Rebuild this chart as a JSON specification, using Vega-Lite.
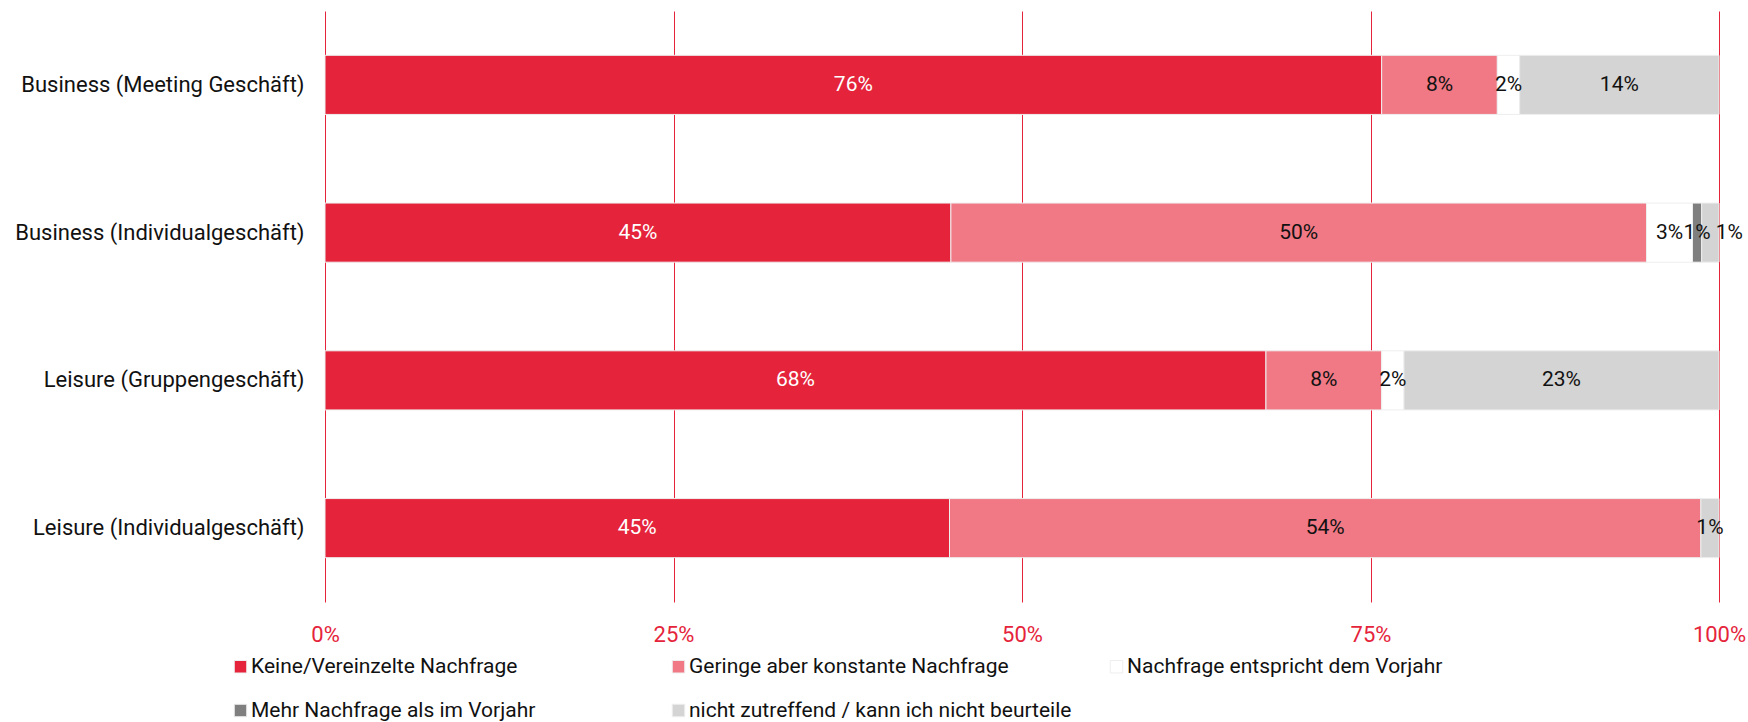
{
  "$schema": "https://vega.github.io/schema/vega-lite/v6.json",
  "width": 1394,
  "height": 591,
  "autosize": {"type": "none"},
  "padding": {"left": 325, "top": 11, "right": 29, "bottom": 120},
  "background": "white",
  "config": {
    "view": {"stroke": null},
    "font": "Roboto",
    "axis": {"labelFont": "Roboto", "domain": false, "ticks": false},
    "legend": {"labelFont": "Roboto"}
  },
  "data": {
    "values": [
      {"category": "Business (Meeting Geschäft)", "answer": "Keine/Vereinzelte Nachfrage", "order": 1, "value": 0.758},
      {"category": "Business (Meeting Geschäft)", "answer": "Geringe aber konstante Nachfrage", "order": 2, "value": 0.083},
      {"category": "Business (Meeting Geschäft)", "answer": "Nachfrage entspricht dem Vorjahr", "order": 3, "value": 0.016},
      {"category": "Business (Meeting Geschäft)", "answer": "nicht zutreffend / kann ich nicht beurteile", "order": 5, "value": 0.143},
      {"category": "Business (Individualgeschäft)", "answer": "Keine/Vereinzelte Nachfrage", "order": 1, "value": 0.449},
      {"category": "Business (Individualgeschäft)", "answer": "Geringe aber konstante Nachfrage", "order": 2, "value": 0.499},
      {"category": "Business (Individualgeschäft)", "answer": "Nachfrage entspricht dem Vorjahr", "order": 3, "value": 0.033},
      {"category": "Business (Individualgeschäft)", "answer": "Mehr Nachfrage als im Vorjahr", "order": 4, "value": 0.0066},
      {"category": "Business (Individualgeschäft)", "answer": "nicht zutreffend / kann ich nicht beurteile", "order": 5, "value": 0.0124},
      {"category": "Leisure (Gruppengeschäft)", "answer": "Keine/Vereinzelte Nachfrage", "order": 1, "value": 0.675},
      {"category": "Leisure (Gruppengeschäft)", "answer": "Geringe aber konstante Nachfrage", "order": 2, "value": 0.083},
      {"category": "Leisure (Gruppengeschäft)", "answer": "Nachfrage entspricht dem Vorjahr", "order": 3, "value": 0.016},
      {"category": "Leisure (Gruppengeschäft)", "answer": "nicht zutreffend / kann ich nicht beurteile", "order": 5, "value": 0.226},
      {"category": "Leisure (Individualgeschäft)", "answer": "Keine/Vereinzelte Nachfrage", "order": 1, "value": 0.448},
      {"category": "Leisure (Individualgeschäft)", "answer": "Geringe aber konstante Nachfrage", "order": 2, "value": 0.539},
      {"category": "Leisure (Individualgeschäft)", "answer": "nicht zutreffend / kann ich nicht beurteile", "order": 5, "value": 0.013}
    ]
  },
  "transform": [
    {"stack": "value", "groupby": ["category"], "sort": [{"field": "order", "order": "ascending"}], "as": ["x0", "x1"]},
    {"calculate": "(datum.x0 + datum.x1) / 2", "as": "mid"}
  ],
  "encoding": {
    "y": {
      "field": "category",
      "type": "nominal",
      "sort": ["Business (Meeting Geschäft)", "Business (Individualgeschäft)", "Leisure (Gruppengeschäft)", "Leisure (Individualgeschäft)"],
      "scale": {"paddingInner": 0.6, "paddingOuter": 0.3},
      "axis": {"title": null, "labelFontSize": 22, "labelColor": "#111111", "labelPadding": 21, "labelLimit": 400, "grid": false}
    }
  },
  "layer": [
    {
      "mark": {"type": "bar", "stroke": "#eeeeee", "strokeWidth": 1},
      "encoding": {
        "x": {
          "field": "x0",
          "type": "quantitative",
          "scale": {"domain": [0, 1], "nice": false},
          "axis": {
            "title": null,
            "values": [0, 0.25, 0.5, 0.75, 1],
            "format": ".0%",
            "labelFontSize": 22,
            "labelColor": "#e5243b",
            "labelPadding": 22,
            "labelFlush": false,
            "grid": true,
            "gridColor": "#e5243b",
            "gridWidth": 1,
            "gridOpacity": 1
          }
        },
        "x2": {"field": "x1"},
        "color": {
          "field": "answer",
          "type": "nominal",
          "scale": {
            "domain": ["Keine/Vereinzelte Nachfrage", "Geringe aber konstante Nachfrage", "Nachfrage entspricht dem Vorjahr", "Mehr Nachfrage als im Vorjahr", "nicht zutreffend / kann ich nicht beurteile"],
            "range": ["#e5243b", "#f07985", "#ffffff", "#7f7f7f", "#d4d4d4"]
          },
          "legend": {
            "title": null,
            "orient": "none",
            "legendX": -95,
            "legendY": 645,
            "direction": "horizontal",
            "columns": 3,
            "gridAlign": "all",
            "columnPadding": 34,
            "rowPadding": 22,
            "symbolType": "square",
            "symbolSize": 156,
            "symbolStrokeColor": "#eeeeee",
            "symbolStrokeWidth": 1,
            "labelFontSize": 21,
            "labelColor": "#111111",
            "labelOffset": 0,
            "labelLimit": 600
          }
        }
      }
    },
    {
      "transform": [{"filter": "!(datum.category === 'Business (Individualgeschäft)' && datum.order === 5)"}],
      "mark": {"type": "text", "fontSize": 21, "align": "center", "baseline": "middle"},
      "encoding": {
        "x": {"field": "mid", "type": "quantitative"},
        "text": {"field": "value", "type": "quantitative", "format": ".0%"},
        "color": {"condition": {"test": "datum.order === 1", "value": "#ffffff"}, "value": "#111111"}
      }
    },
    {
      "transform": [{"filter": "datum.category === 'Business (Individualgeschäft)' && datum.order === 5"}],
      "mark": {"type": "text", "fontSize": 21, "align": "center", "baseline": "middle", "dx": 19},
      "encoding": {
        "x": {"field": "mid", "type": "quantitative"},
        "text": {"field": "value", "type": "quantitative", "format": ".0%"},
        "color": {"value": "#111111"}
      }
    }
  ]
}
